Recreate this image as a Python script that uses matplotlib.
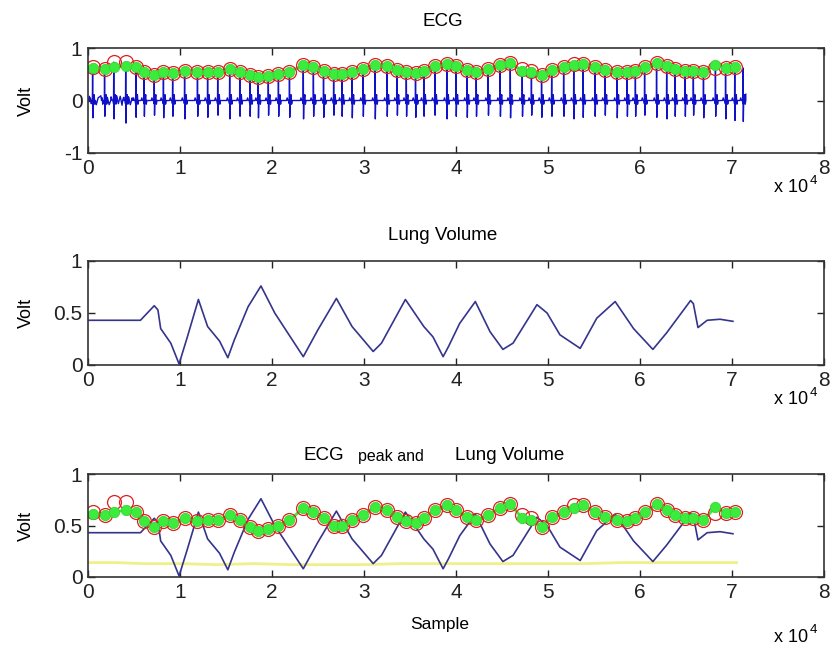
import numpy as np
import matplotlib
matplotlib.use('Agg')
import matplotlib.pyplot as plt

plt.rcParams['font.family'] = ['Liberation Sans', 'DejaVu Sans']

# R peaks found in the ECG (sample index, amplitude in volt)
peak_locs = [500, 1800, 2800, 4100, 5200, 6100, 7200, 8200, 9200, 10500,
             11900, 13000, 14100, 15400, 16500, 17600, 18500, 19600, 20700, 21900,
             23400, 24500, 25600, 26700, 27600, 28700, 29900, 31200, 32500, 33600,
             34600, 35600, 36500, 37700, 39000, 40000, 41200, 42200, 43500, 44800,
             45900, 47200, 48200, 49300, 50400, 51700, 52800, 53800, 55100, 56200,
             57500, 58600, 59500, 60500, 61800, 62900, 63800, 64900, 65800, 66900,
             68200, 69300, 70300]
peak_vals = [0.63, 0.60, 0.73, 0.73, 0.63, 0.54, 0.49, 0.54, 0.52, 0.57,
             0.54, 0.55, 0.55, 0.60, 0.55, 0.49, 0.45, 0.47, 0.50, 0.55,
             0.67, 0.63, 0.57, 0.50, 0.50, 0.55, 0.60, 0.68, 0.65, 0.58,
             0.54, 0.52, 0.57, 0.65, 0.70, 0.65, 0.58, 0.55, 0.60, 0.67,
             0.71, 0.60, 0.57, 0.49, 0.58, 0.63, 0.70, 0.70, 0.63, 0.58,
             0.55, 0.54, 0.57, 0.63, 0.71, 0.65, 0.60, 0.57, 0.57, 0.55,
             0.62, 0.62, 0.63]
# second (green) peak estimate, nearly the same as the red one
peak_vals2 = [0.61, 0.60, 0.63, 0.65, 0.63, 0.54, 0.49, 0.54, 0.52, 0.57,
              0.54, 0.55, 0.55, 0.60, 0.55, 0.49, 0.45, 0.47, 0.50, 0.55,
              0.67, 0.63, 0.57, 0.50, 0.50, 0.55, 0.60, 0.68, 0.65, 0.58,
              0.54, 0.52, 0.57, 0.65, 0.70, 0.65, 0.58, 0.55, 0.60, 0.67,
              0.71, 0.57, 0.55, 0.49, 0.58, 0.63, 0.67, 0.70, 0.63, 0.58,
              0.55, 0.54, 0.57, 0.63, 0.71, 0.65, 0.60, 0.57, 0.57, 0.55,
              0.68, 0.62, 0.63]

# one more beat at the very end that has no marker
extra_beat_loc = 71200
extra_beat_val = 0.62
ecg_troughs = [-0.33, -0.30, -0.35, -0.43, -0.32, -0.30, -0.28, -0.33, -0.30, -0.35,
               -0.30, -0.32, -0.28, -0.35, -0.30, -0.30, -0.33, -0.28, -0.30, -0.32,
               -0.35, -0.30, -0.32, -0.28, -0.30, -0.33, -0.30, -0.35, -0.30, -0.28,
               -0.30, -0.32, -0.30, -0.28, -0.35, -0.30, -0.32, -0.30, -0.28, -0.30,
               -0.33, -0.30, -0.28, -0.32, -0.30, -0.30, -0.35, -0.32, -0.30, -0.28,
               -0.33, -0.30, -0.30, -0.28, -0.32, -0.35, -0.30, -0.30, -0.28, -0.33,
               -0.30, -0.35, -0.38, -0.40]
# baseline wander at the start of the recording
early_noise_x = [150, 350, 650, 900, 1100, 1400, 1600, 2100, 2300, 2500,
                 3100, 3300, 3500, 3700, 3900, 4400, 4600, 4800]
early_noise_y = [0.08, -0.06, 0.10, -0.08, 0.05, 0.09, -0.07, 0.06, -0.08, 0.07,
                 0.09, -0.06, 0.08, -0.09, 0.06, 0.07, -0.08, 0.05]

# lung volume trace (sample index, volt)
lung_x = [0, 5700, 7200, 7600, 7900, 9000, 9900, 10800, 12000, 13000,
          14300, 15200, 15900, 17400, 18800, 20300, 21700, 23400, 25000, 27000,
          28700, 31000, 31900, 34500, 36500, 37500, 38600, 39200, 40400, 42100,
          43700, 45100, 46200, 48800, 49900, 51300, 53500, 55300, 57300, 59300,
          61400, 62900, 65500, 65800, 66300, 67300, 68700, 70100]
lung_y = [0.43, 0.43, 0.57, 0.53, 0.35, 0.21, 0.01, 0.27, 0.63, 0.37,
          0.23, 0.07, 0.24, 0.56, 0.76, 0.50, 0.31, 0.08, 0.34, 0.64,
          0.37, 0.13, 0.21, 0.63, 0.37, 0.27, 0.08, 0.18, 0.40, 0.61,
          0.32, 0.15, 0.21, 0.58, 0.50, 0.29, 0.16, 0.45, 0.61, 0.35,
          0.15, 0.31, 0.62, 0.59, 0.36, 0.43, 0.44, 0.42]

# slow yellow baseline in the last panel
base_x = [0, 3000, 6000, 10000, 14000, 18000, 22000, 26000, 30000, 34000,
          38000, 42000, 46000, 50000, 54000, 58000, 62000, 66000, 70500]
base_y = [0.14, 0.14, 0.13, 0.13, 0.12, 0.13, 0.12, 0.12, 0.12, 0.13,
          0.13, 0.13, 0.13, 0.13, 0.13, 0.14, 0.14, 0.14, 0.14]

x_ticks = [0, 1, 2, 3, 4, 5, 6, 7, 8]

# ---- build the ecg trace from the beats
beat_dx = [-330, -250, -170, -60, -25, 0, 30, 70, 170, 230, 300]
ecg_x, ecg_y = [0], [0.0]
locs = peak_locs + [extra_beat_loc]
vals = peak_vals + [extra_beat_val]
for loc, pk, tr in zip(locs, vals, ecg_troughs):
    beat_y = [0, 0.05, 0, 0, -0.06, pk, tr, 0, 0.11, -0.07, 0]
    for dx, y in zip(beat_dx, beat_y):
        ecg_x.append(loc + dx)
        ecg_y.append(y)
for nx, ny in zip(early_noise_x, early_noise_y):
    if min(abs(nx - l) for l in locs) > 120:
        ecg_x.append(nx)
        ecg_y.append(ny)
ecg_x.append(71500)
ecg_y.append(0.12)
order = np.argsort(ecg_x, kind='stable')
ecg_x = np.array(ecg_x)[order]
ecg_y = np.array(ecg_y)[order]

fig = plt.figure(figsize=(8.32, 6.49), dpi=100)
W, H = 832.0, 649.0
left, right = 88, 824
boxes = [(48, 153), (261, 365), (474, 577)]
axes = []
for top, bot in boxes:
    ax = fig.add_axes([left / W, 1 - bot / H, (right - left) / W, (bot - top) / H])
    axes.append(ax)

red = '#e02020'
green = '#3cec3c'
navy = '#34348c'


def style(ax, yticks, ylabels, ylim):
    ax.set_xlim(0, 80000)
    ax.set_ylim(*ylim)
    ax.set_xticks([t * 10000 for t in x_ticks])
    ax.set_xticklabels([str(t) for t in x_ticks])
    ax.set_yticks(yticks)
    ax.set_yticklabels(ylabels)
    ax.tick_params(direction='in', top=True, right=True, length=5, width=1,
                   labelsize=15, pad=4, colors='#222222')
    for s in ax.spines.values():
        s.set_linewidth(1.2)
        s.set_color('#333333')
    ax.set_ylabel('Volt', fontsize=13)
    ax.yaxis.set_label_coords(-0.072, 0.5)


def peaks(ax):
    ax.plot(peak_locs, peak_vals2, '-', color=green, lw=2.0)
    ax.plot(peak_locs, peak_vals, 'o', ms=10, mfc='none', mec=red, mew=0.9)
    ax.plot(peak_locs, peak_vals2, 'o', color=green, ms=7.5, mec='#30d030', mew=0.5)


# top: ecg with peaks
ax = axes[0]
ax.plot(ecg_x, ecg_y, color='#1010c8', lw=1.0)
peaks(ax)
style(ax, [-1, 0, 1], ['-1', '0', '1'], (-1, 1))

# middle: lung volume
ax = axes[1]
ax.plot(lung_x, lung_y, color=navy, lw=1.2)
style(ax, [0, 0.5, 1], ['0', '0.5', '1'], (0, 1))

# bottom: both together
ax = axes[2]
ax.plot(base_x, base_y, color='#f0f08a', lw=2.0)
ax.plot(lung_x, lung_y, color=navy, lw=1.2)
peaks(ax)
style(ax, [0, 0.5, 1], ['0', '0.5', '1'], (0, 1))

# titles and axis decorations placed like the original
fig.text(443 / W, 1 - 21 / H, 'ECG', ha='center', va='center', fontsize=13.5)
fig.text(443 / W, 1 - 236 / H, 'Lung Volume', ha='center', va='center', fontsize=13.5)
fig.text(344 / W, 1 - 455 / H, 'ECG', ha='right', va='center', fontsize=13.5)
fig.text(358 / W, 1 - 457 / H, 'peak and', ha='left', va='center', fontsize=11.5)
fig.text(455 / W, 1 - 455 / H, 'Lung Volume', ha='left', va='center', fontsize=13.5)
fig.text(440 / W, 1 - 625 / H, 'Sample', ha='center', va='center', fontsize=12.5)
for yc in (188, 400, 637):
    fig.text(774 / W, 1 - yc / H, 'x 10', ha='left', va='center', fontsize=13)
    fig.text(810 / W, 1 - (yc - 7) / H, '4', ha='left', va='center', fontsize=9.5)

fig.savefig('out.png', dpi=100, facecolor='white')
